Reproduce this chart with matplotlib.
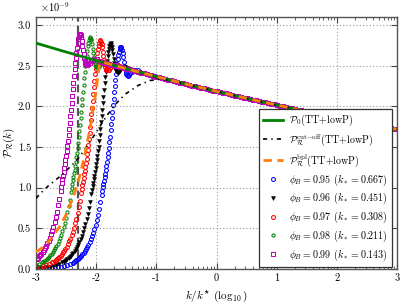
import numpy as np
import matplotlib
matplotlib.use("Agg")
import matplotlib.pyplot as plt
from matplotlib.ticker import FixedLocator, FixedFormatter

plt.rcParams['font.family'] = ['serif']
plt.rcParams['font.serif'] = ['cmr10', 'Liberation Serif', 'DejaVu Serif']
plt.rcParams['mathtext.fontset'] = 'cm'
plt.rcParams['axes.unicode_minus'] = False
plt.rcParams['axes.formatter.use_mathtext'] = True

# ---------------- data (units of 1e-9) ----------------
# baseline power spectrum P0, sampled every 0.05 in log10(k/k*)
p0_logk = np.round(np.linspace(-3, 3, 121), 2)
p0_vals = [2.780, 2.769, 2.758, 2.747, 2.736, 2.725, 2.714, 2.703, 2.692, 2.681,
           2.671, 2.660, 2.650, 2.639, 2.629, 2.618, 2.608, 2.597, 2.587, 2.576,
           2.566, 2.556, 2.546, 2.536, 2.526, 2.516, 2.505, 2.495, 2.485, 2.475,
           2.465, 2.455, 2.446, 2.436, 2.426, 2.417, 2.407, 2.397, 2.388, 2.378,
           2.368, 2.359, 2.350, 2.340, 2.331, 2.322, 2.312, 2.303, 2.294, 2.284,
           2.275, 2.266, 2.257, 2.248, 2.239, 2.231, 2.222, 2.213, 2.204, 2.195,
           2.186, 2.177, 2.169, 2.160, 2.152, 2.143, 2.134, 2.126, 2.117, 2.109,
           2.100, 2.092, 2.084, 2.075, 2.067, 2.059, 2.051, 2.042, 2.034, 2.026,
           2.018, 2.010, 2.002, 1.994, 1.986, 1.978, 1.970, 1.962, 1.954, 1.946,
           1.939, 1.931, 1.923, 1.916, 1.908, 1.901, 1.893, 1.885, 1.878, 1.870,
           1.862, 1.855, 1.848, 1.840, 1.833, 1.826, 1.818, 1.811, 1.804, 1.796,
           1.789, 1.782, 1.775, 1.768, 1.761, 1.754, 1.747, 1.740, 1.733, 1.726, 1.719]

# cut-off spectrum (joins P0 beyond its last point)
cut_logk = np.round(np.arange(-3.0, -0.65, 0.1), 2)
cut_vals = [0.87, 0.95, 1.02, 1.08, 1.14, 1.21, 1.28, 1.36, 1.46, 1.57, 1.68, 1.80,
            1.91, 2.01, 2.09, 2.16, 2.21, 2.26, 2.29, 2.32, 2.33, 2.335, 2.325, 2.310]

# broken power law (joins P0 beyond its last point)
bpl_logk = [-3.0, -2.9, -2.8, -2.7, -2.6, -2.5, -2.4, -2.3, -2.2, -2.1, -2.0, -1.95]
bpl_vals = [0.21, 0.26, 0.33, 0.42, 0.53, 0.67, 0.85, 1.07, 1.37, 1.74, 2.20, 2.50]

# phi_B curves: sample grid in log10 k measured from each curve's peak
rel_logk = np.round(np.concatenate([
    np.arange(-1.40, -0.79, 0.05),    # 13
    np.arange(-0.78, -0.315, 0.02),   # 24
    np.arange(-0.31, 0.105, 0.01),    # 42
    np.arange(0.12, 0.205, 0.02),     # 5
    np.arange(0.24, 0.605, 0.04),     # 10
]), 3)
phi_labels = ['0.95', '0.96', '0.97', '0.98', '0.99']
kstar_labels = ['0.667', '0.451', '0.308', '0.211', '0.143']
peak_logk = [-1.59, -1.76, -1.93, -2.10, -2.27]

phi095 = [0.004, 0.005, 0.006, 0.008, 0.010, 0.013, 0.017, 0.023, 0.029, 0.037, 0.048, 0.062, 0.080,
          0.088, 0.098, 0.108, 0.119, 0.133, 0.147, 0.162, 0.179, 0.199, 0.220, 0.243, 0.269,
          0.297, 0.330, 0.365, 0.403, 0.446, 0.493, 0.546, 0.604, 0.670, 0.741, 0.819, 0.907,
          0.954, 1.004, 1.047, 1.089, 1.132, 1.174, 1.222, 1.269, 1.321, 1.373, 1.430, 1.487,
          1.558, 1.629, 1.705, 1.781, 1.856, 1.932, 2.013, 2.093, 2.174, 2.254, 2.330, 2.396,
          2.462, 2.519, 2.581, 2.633, 2.676, 2.709, 2.728, 2.737, 2.723, 2.699, 2.657, 2.605,
          2.552, 2.500, 2.458, 2.425, 2.401, 2.387,
          2.377, 2.387, 2.406, 2.425, 2.439,
          2.448, 2.443, 2.429, 2.415, 2.406, 2.396, 2.390, 2.382, 2.374, 2.367]
phi096 = [0.004, 0.005, 0.007, 0.009, 0.011, 0.013, 0.017, 0.023, 0.030, 0.037, 0.049, 0.062, 0.081,
          0.089, 0.099, 0.109, 0.121, 0.134, 0.149, 0.164, 0.181, 0.202, 0.223, 0.247, 0.273,
          0.301, 0.334, 0.370, 0.409, 0.452, 0.500, 0.554, 0.613, 0.679, 0.751, 0.830, 0.920,
          0.967, 1.018, 1.061, 1.104, 1.147, 1.191, 1.239, 1.287, 1.339, 1.392, 1.450, 1.507,
          1.579, 1.651, 1.728, 1.805, 1.882, 1.959, 2.040, 2.122, 2.203, 2.285, 2.362, 2.429,
          2.496, 2.554, 2.616, 2.669, 2.712, 2.746, 2.765, 2.775, 2.760, 2.736, 2.693, 2.640,
          2.587, 2.535, 2.491, 2.458, 2.434, 2.419,
          2.410, 2.419, 2.439, 2.458, 2.472,
          2.482, 2.477, 2.462, 2.448, 2.439, 2.429, 2.422, 2.415, 2.407, 2.399]
phi097 = [0.004, 0.005, 0.007, 0.009, 0.011, 0.014, 0.018, 0.023, 0.030, 0.038, 0.050, 0.063, 0.082,
          0.091, 0.100, 0.111, 0.123, 0.136, 0.151, 0.166, 0.184, 0.204, 0.226, 0.250, 0.276,
          0.306, 0.339, 0.375, 0.415, 0.458, 0.507, 0.562, 0.621, 0.688, 0.761, 0.842, 0.932,
          0.980, 1.032, 1.075, 1.119, 1.163, 1.207, 1.255, 1.304, 1.358, 1.411, 1.470, 1.528,
          1.601, 1.674, 1.752, 1.830, 1.907, 1.985, 2.068, 2.151, 2.234, 2.316, 2.394, 2.462,
          2.530, 2.589, 2.652, 2.705, 2.749, 2.783, 2.803, 2.813, 2.798, 2.774, 2.730, 2.676,
          2.623, 2.569, 2.525, 2.491, 2.467, 2.452,
          2.443, 2.452, 2.472, 2.491, 2.506,
          2.516, 2.511, 2.496, 2.482, 2.472, 2.462, 2.455, 2.448, 2.440, 2.432]
phi098 = [0.004, 0.005, 0.007, 0.009, 0.011, 0.014, 0.018, 0.024, 0.031, 0.038, 0.050, 0.064, 0.083,
          0.092, 0.102, 0.112, 0.124, 0.138, 0.153, 0.169, 0.186, 0.207, 0.229, 0.254, 0.280,
          0.310, 0.343, 0.380, 0.420, 0.465, 0.514, 0.569, 0.629, 0.697, 0.771, 0.853, 0.945,
          0.993, 1.046, 1.090, 1.134, 1.179, 1.223, 1.273, 1.322, 1.376, 1.430, 1.490, 1.549,
          1.623, 1.697, 1.776, 1.855, 1.934, 2.012, 2.096, 2.180, 2.264, 2.348, 2.427, 2.496,
          2.565, 2.624, 2.688, 2.742, 2.787, 2.821, 2.841, 2.851, 2.836, 2.812, 2.767, 2.713,
          2.659, 2.604, 2.560, 2.525, 2.501, 2.486,
          2.476, 2.486, 2.506, 2.525, 2.540,
          2.550, 2.545, 2.530, 2.516, 2.506, 2.496, 2.489, 2.481, 2.473, 2.465]
phi099 = [0.004, 0.005, 0.007, 0.009, 0.011, 0.014, 0.018, 0.024, 0.031, 0.039, 0.051, 0.065, 0.084,
          0.093, 0.103, 0.114, 0.126, 0.140, 0.155, 0.171, 0.189, 0.210, 0.232, 0.257, 0.284,
          0.314, 0.348, 0.385, 0.426, 0.471, 0.521, 0.577, 0.638, 0.707, 0.782, 0.865, 0.958,
          1.007, 1.060, 1.105, 1.150, 1.195, 1.240, 1.290, 1.340, 1.395, 1.450, 1.510, 1.570,
          1.645, 1.720, 1.800, 1.880, 1.960, 2.040, 2.125, 2.210, 2.295, 2.380, 2.460, 2.530,
          2.600, 2.660, 2.725, 2.780, 2.825, 2.860, 2.880, 2.890, 2.875, 2.850, 2.805, 2.750,
          2.695, 2.640, 2.595, 2.560, 2.535, 2.520,
          2.510, 2.520, 2.540, 2.560, 2.575,
          2.585, 2.580, 2.565, 2.550, 2.540, 2.530, 2.523, 2.515, 2.507, 2.499]
phi_series = [phi095, phi096, phi097, phi098, phi099]

kb_logk = -2.31   # vertical dashed reference line

# ---------------- figure ----------------
fig = plt.figure(figsize=(4.07, 3.05), dpi=100)
ax = fig.add_axes([0.0885, 0.118, 0.8869, 0.826])

p0_arr = np.asarray(p0_vals)


def with_tail(xs, ys):
    xs = np.asarray(xs, float)
    ys = np.asarray(ys, float)
    m = p0_logk > xs.max() + 1e-9
    return np.concatenate([xs, p0_logk[m]]), np.concatenate([ys, p0_arr[m]])


styles = [dict(marker='o', mfc='none', mec='b', ms=2.8, mew=0.75),
          dict(marker='v', mfc='k', mec='k', ms=2.8, mew=0.4),
          dict(marker='o', mfc='none', mec='r', ms=2.8, mew=0.75),
          dict(marker='o', mfc='none', mec='g', ms=2.3, mew=0.75),
          dict(marker='s', mfc='none', mec='m', ms=2.6, mew=0.75)]

ax.axvline(kb_logk, color='#555555', ls=(0, (3.5, 1.8)), lw=1.6, zorder=1.5)

phi_handles = []
for ys, pk, st, pl, ks in zip(phi_series, peak_logk, styles, phi_labels, kstar_labels):
    xs = rel_logk + pk
    keep = xs >= -3.0
    x_all, y_all = with_tail(xs[keep], np.asarray(ys)[keep])
    h, = ax.plot(x_all, y_all, ls='none', zorder=2,
                 label=r'$\phi_B=%s$ $(k_*=%s)$' % (pl, ks), **st)
    phi_handles.append(h)

h0, = ax.plot(p0_logk, p0_arr, color='g', lw=2.0, zorder=3,
              label=r'$\mathcal{P}_0$(TT+lowP)')
xc, yc = with_tail(cut_logk, cut_vals)
hc, = ax.plot(xc, yc, color='k', lw=1.2, ls=(0, (2.5, 2.5, 0.8, 2.5)), zorder=4,
              label=r'$\mathcal{P}_{\mathcal{R}}^{\rm cut\!-\!off}$(TT+lowP)')
xb, yb = with_tail(bpl_logk, bpl_vals)
hb, = ax.plot(xb, yb, color='#ff7f0e', lw=2.0, ls=(0, (3, 2)), zorder=5,
              label=r'$\mathcal{P}_{\mathcal{R}}^{\rm bpl}$(TT+lowP)')

ax.set_xlim(-3, 3)
ax.set_ylim(0, 3.1)

xt = [-3, -2, -1, 0, 1, 2, 3]
ax.xaxis.set_major_locator(FixedLocator(xt))
ax.xaxis.set_major_formatter(FixedFormatter([str(v) for v in xt]))
minor = [n + np.log10(m) for n in range(-3, 3) for m in range(2, 10)]
ax.xaxis.set_minor_locator(FixedLocator(minor))
yt = [0.0, 0.5, 1.0, 1.5, 2.0, 2.5, 3.0]
ax.yaxis.set_major_locator(FixedLocator(yt))
ax.yaxis.set_major_formatter(FixedFormatter(['%.1f' % v for v in yt]))

ax.tick_params(which='both', direction='in', top=True, right=True, labelsize=7.5,
               color='#444444')
ax.tick_params(which='major', length=4, width=0.8)
ax.tick_params(which='minor', length=2, width=0.6)
for s in ax.spines.values():
    s.set_color('#555555')
    s.set_linewidth(1.0)
ax.grid(True, which='major', color='#999999', ls=(0, (1, 2)), lw=0.8)
ax.set_axisbelow(True)

ax.text(0.01, 1.012, r'$\times10^{-9}$', transform=ax.transAxes, fontsize=7.5,
        ha='left', va='bottom')
ax.set_xlabel(r'$k/k^{\star}$ ($\log_{10}$)', fontsize=8, labelpad=4)
ax.set_ylabel(r'$\mathcal{P}_{\mathcal{R}}(k)$', fontsize=8)
ax.yaxis.set_label_coords(-0.052, 0.5)

leg = ax.legend(handles=[h0, hc, hb] + phi_handles, loc='lower right',
                bbox_to_anchor=(1 - 5.0 / 361, 2.0 / 252), borderaxespad=0.0,
                fontsize=7.2, numpoints=1, handlelength=2.0, handletextpad=0.6,
                labelspacing=0.35, borderpad=0.4, fancybox=False, framealpha=1.0,
                edgecolor='#333333')
leg.get_frame().set_linewidth(0.9)

fig.savefig('out.png', dpi=100)
